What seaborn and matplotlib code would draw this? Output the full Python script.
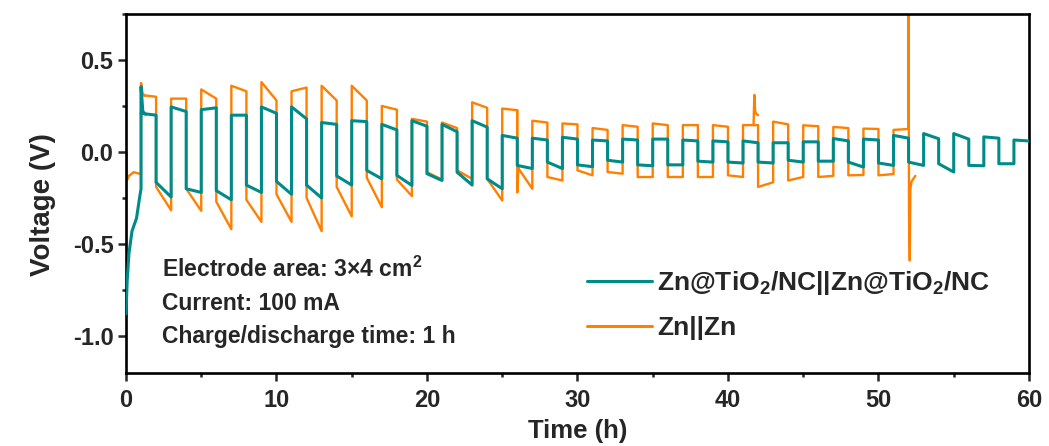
import matplotlib
matplotlib.use("Agg")
import matplotlib.pyplot as plt
import pandas as pd
import seaborn as sns
from matplotlib.ticker import MultipleLocator

TEAL_LABEL = r"Zn@TiO$_2$/NC||Zn@TiO$_2$/NC"
ORANGE_LABEL = r"Zn||Zn"
COLORS = {TEAL_LABEL: "#008B8B", ORANGE_LABEL: "#FF8000"}

# first hour, before the cycling starts (h, V)
teal_init_t = [0.0, 0.08, 0.2, 0.4, 0.7, 0.9, 1.0]
teal_init_v = [-0.88, -0.70, -0.55, -0.43, -0.36, -0.25, -0.20]
orange_init_t = [0.0, 0.0, 0.02, 0.08, 0.2, 0.5, 1.0]
orange_init_v = [-1.11, -1.11, 0.0, -0.15, -0.13, -0.11, -0.12]

# plateau voltage at start / end of every 1 h half cycle (charge = high, discharge = low)
teal_high_start = [0.21, 0.245, 0.23, 0.20, 0.245, 0.245, 0.16, 0.17, 0.15, 0.17,
                   0.15, 0.17, 0.09, 0.075, 0.08, 0.065, 0.07, 0.07, 0.065, 0.06,
                   0.06, 0.05, 0.055, 0.073, 0.07, 0.09, 0.10, 0.10, 0.082, 0.065]
teal_high_end = [0.20, 0.22, 0.24, 0.20, 0.21, 0.18, 0.15, 0.165, 0.12, 0.14,
                 0.11, 0.135, 0.075, 0.065, 0.07, 0.06, 0.065, 0.07, 0.06, 0.055,
                 0.05, 0.05, 0.055, 0.06, 0.065, 0.075, 0.072, 0.07, 0.075, 0.06]
teal_low_start = [-0.165, -0.20, -0.21, -0.18, -0.16, -0.18, -0.13, -0.10, -0.127, -0.118,
                  -0.11, -0.146, -0.073, -0.055, -0.07, -0.045, -0.07, -0.07, -0.05, -0.055,
                  -0.055, -0.045, -0.05, -0.055, -0.06, -0.055, -0.064, -0.073, -0.064]
teal_low_end = [-0.245, -0.22, -0.26, -0.22, -0.23, -0.25, -0.18, -0.146, -0.182, -0.155,
                -0.18, -0.20, -0.09, -0.09, -0.08, -0.055, -0.075, -0.07, -0.055, -0.06,
                -0.06, -0.055, -0.05, -0.082, -0.073, -0.073, -0.109, -0.075, -0.064]

orange_high_start = [0.31, 0.29, 0.34, 0.36, 0.38, 0.33, 0.36, 0.36, 0.25, 0.18,
                     0.16, 0.27, 0.236, 0.17, 0.155, 0.13, 0.146, 0.155, 0.146, 0.146,
                     0.146, 0.165, 0.145, 0.136, 0.127, 0.12]
orange_high_end = [0.30, 0.29, 0.29, 0.33, 0.28, 0.35, 0.28, 0.28, 0.23, 0.165,
                   0.13, 0.24, 0.227, 0.16, 0.15, 0.12, 0.137, 0.146, 0.146, 0.137,
                   0.146, 0.15, 0.14, 0.13, 0.125, 0.125]
orange_low_start = [-0.19, -0.20, -0.27, -0.26, -0.23, -0.25, -0.19, -0.14, -0.15, -0.11,
                    -0.10, -0.146, -0.08, -0.136, -0.10, -0.109, -0.136, -0.136, -0.136, -0.127,
                    -0.19, -0.155, -0.136, -0.127, -0.127]
orange_low_end = [-0.317, -0.32, -0.42, -0.38, -0.38, -0.43, -0.35, -0.30, -0.24, -0.15,
                  -0.146, -0.264, -0.20, -0.155, -0.127, -0.118, -0.136, -0.136, -0.136, -0.136,
                  -0.165, -0.136, -0.13, -0.125, -0.12]

# overshoots and glitches that sit on top of the plateaus
teal_spike_t = [1.0, 1.0, 1.12, 1.3]
teal_spike_v = [0.21, 0.355, 0.22, 0.205]
orange_spike_t = [1.0, 1.0, 1.1, 1.25]
orange_spike_v = [0.31, 0.375, 0.32, 0.305]
orange_dip_t = [26.0, 26.0, 26.08]
orange_dip_v = [0.227, -0.22, -0.08]
orange_bump_t = [41.7, 41.75, 41.8, 41.85, 42.0]
orange_bump_v = [0.146, 0.31, 0.23, 0.21, 0.20]
orange_short_t = [52.0, 52.0, 52.03, 52.08, 52.12, 52.2, 52.45]
orange_short_v = [0.125, 0.9, -0.35, -0.59, -0.20, -0.16, -0.13]


def cycle_points(high_start, high_end, low_start, low_end, t0=1.0):
    t, v = [], []
    for i in range(len(high_start)):
        ts = t0 + 2 * i
        t += [ts, ts + 1]
        v += [high_start[i], high_end[i]]
        if i < len(low_start):
            t += [ts + 1, ts + 2]
            v += [low_start[i], low_end[i]]
    return t, v


def to_df(t, v, cell, part):
    return pd.DataFrame({"time": t, "voltage": v, "cell": cell, "part": part})


tt, tv = cycle_points(teal_high_start, teal_high_end, teal_low_start, teal_low_end)
ot, ov = cycle_points(orange_high_start, orange_high_end, orange_low_start, orange_low_end)
df = pd.concat([
    to_df(teal_init_t + tt, teal_init_v + tv, TEAL_LABEL, 0),
    to_df(teal_spike_t, teal_spike_v, TEAL_LABEL, 1),
    to_df(orange_init_t + ot, orange_init_v + ov, ORANGE_LABEL, 2),
    to_df(orange_spike_t, orange_spike_v, ORANGE_LABEL, 3),
    to_df(orange_dip_t, orange_dip_v, ORANGE_LABEL, 4),
    to_df(orange_bump_t, orange_bump_v, ORANGE_LABEL, 5),
    to_df(orange_short_t, orange_short_v, ORANGE_LABEL, 6),
], ignore_index=True)

sns.set_style("ticks")
plt.rcParams["font.family"] = ["Liberation Sans", "DejaVu Sans"]
plt.rcParams["font.weight"] = "bold"
plt.rcParams["axes.labelweight"] = "bold"
plt.rcParams["axes.unicode_minus"] = False
plt.rcParams["mathtext.fontset"] = "custom"
plt.rcParams["mathtext.rm"] = "Liberation Sans:bold"
plt.rcParams["mathtext.it"] = "Liberation Sans:bold"
plt.rcParams["mathtext.bf"] = "Liberation Sans:bold"

fig = plt.figure(figsize=(10.49, 4.46), dpi=100)
ax = fig.add_axes([0.1201, 0.1643, 0.8608, 0.8043])

# orange first so the teal trace sits on top
sns.lineplot(data=df, x="time", y="voltage", hue="cell", units="part", estimator=None,
             sort=False, palette=COLORS, hue_order=[ORANGE_LABEL, TEAL_LABEL],
             linewidth=1.7, ax=ax)
for line in ax.lines:
    if line.get_color().lower() == COLORS[TEAL_LABEL].lower():
        line.set_zorder(3)
        line.set_linewidth(2.2)

ax.set_xlim(0, 60)
ax.set_ylim(-1.2, 0.75)
ax.xaxis.set_major_locator(MultipleLocator(10))
ax.xaxis.set_minor_locator(MultipleLocator(5))
ax.yaxis.set_major_locator(MultipleLocator(0.5))
ax.yaxis.set_minor_locator(MultipleLocator(0.25))
ax.tick_params(which="major", direction="out", length=5.5, width=1.8, labelsize=17)
ax.tick_params(which="minor", direction="out", length=3, width=1.8)
ax.tick_params(axis="x", pad=6)
for s in ax.spines.values():
    s.set_linewidth(1.9)
    s.set_color("black")

ax.set_xlabel("Time (h)", fontsize=18.5, labelpad=5)
ax.set_ylabel("Voltage (V)", fontsize=20)
ax.yaxis.set_label_coords(-0.078, 0.47)

notes = ["Electrode area: 3×4 cm$^2$", "Current: 100 mA", "Charge/discharge time: 1 h"]
for note, y in zip(notes, [0.2676, 0.1748, 0.0828]):
    ax.text(0.0395, y, note, transform=ax.transAxes, fontsize=16.5, fontweight="bold",
            va="baseline", ha="left")

handles, labels = ax.get_legend_handles_labels()
order = [labels.index(TEAL_LABEL), labels.index(ORANGE_LABEL)]
leg = ax.legend([handles[i] for i in order], [labels[i] for i in order],
                loc="upper left", bbox_to_anchor=(0.5105, 0.288), borderaxespad=0,
                borderpad=0, frameon=False, fontsize=19, handlelength=2.46,
                handletextpad=0.19, labelspacing=0.72)
for h in leg.get_lines():
    h.set_linewidth(2.2)

fig.savefig("out.png", dpi=100)
